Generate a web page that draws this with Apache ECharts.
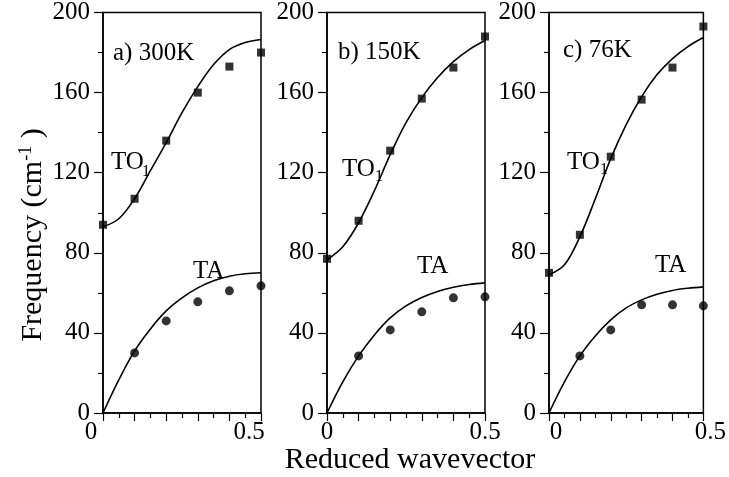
<!DOCTYPE html>
<html>
<head>
<meta charset="utf-8">
<script src="https://cdn.jsdelivr.net/npm/echarts@6/dist/echarts.min.js"></script>
<style>
html, body { margin: 0; padding: 0; background: #fff; }
#main { width: 729px; height: 477px; }
</style>
</head>
<body>
<div id="main"></div>
<script>
// reduced wavevector positions
var qTO = [0, 0.1, 0.2, 0.3, 0.4, 0.5];
var qTA = [0.1, 0.2, 0.3, 0.4, 0.5];
var qFit = [0, 0.05, 0.1, 0.15, 0.2, 0.25, 0.3, 0.35, 0.4, 0.45, 0.5];

var panelNames = ['a) 300K', 'b) 150K', 'c) 76K'];

// measured points (cm-1)
var to300 = [94, 107, 136, 160, 173, 180];
var ta300 = [30, 46, 55.5, 61, 63.5];
var to150 = [77, 96, 131, 157, 172.5, 188];
var ta150 = [28.5, 41.5, 50.5, 57.5, 58];
var to76 = [70, 89, 128, 156.5, 172.5, 193];
var ta76 = [28.5, 41.5, 54, 54, 53.5];

// fitted curves
var toFit300 = [93, 97, 107, 121, 135, 150, 163, 174, 181.5, 185, 186.5];
var taFit300 = [0, 16.5, 31, 42, 51, 57.5, 62.5, 66, 68.3, 69.5, 70];
var toFit150 = [76.5, 83, 95, 111, 129, 145, 157.5, 167.5, 175.5, 181.5, 186];
var taFit150 = [0, 15.5, 28.5, 39, 47.5, 53.5, 57.7, 60.7, 62.8, 64.2, 65];
var toFit76 = [69, 74, 88, 107, 127, 144, 158, 169, 177, 183, 187.5];
var taFit76 = [0, 15.5, 28.5, 38.5, 46.5, 52.5, 56.5, 59.3, 61.2, 62.3, 63];

var font = 'Liberation Serif, Times New Roman, serif';

function pairs(xs, ys) {
    var out = [];
    for (var i = 0; i < ys.length; i++) {
        out.push([xs[i], ys[i]]);
    }
    return out;
}

var myChart = echarts.init(document.getElementById('main'));

var lefts = [103, 327, 549];
var labelPad = [[0, 24, 0, 0], [0, 0, 0, 0], [0, 0, 0, 14]];
var toData = [to300, to150, to76];
var taData = [ta300, ta150, ta76];
var toFits = [toFit300, toFit150, toFit76];
var taFits = [taFit300, taFit150, taFit76];

var grids = [], xAxes = [], yAxes = [], series = [];
for (var p = 0; p < 3; p++) {
    grids.push({
        left: lefts[p], top: 11, width: 158, height: 402,
        show: true, borderColor: '#000', borderWidth: 1.5
    });
    xAxes.push({
        type: 'value', gridIndex: p, min: 0, max: 0.5, interval: 0.1,
        axisLine: { lineStyle: { color: '#000', width: 1.5 } },
        axisTick: { length: 8, lineStyle: { color: '#000', width: 1.2 } },
        minorTick: { show: true, splitNumber: 2, length: 5, lineStyle: { color: '#000', width: 1.2 } },
        splitLine: { show: false },
        axisLabel: {
            color: '#000', fontFamily: font, fontSize: 25, margin: 7,
            padding: labelPad[p],
            showMinLabel: true, showMaxLabel: true,
            formatter: function (v) {
                if (Math.abs(v) < 1e-9) return '0';
                if (Math.abs(v - 0.5) < 1e-9) return '0.5';
                return '';
            }
        }
    });
    yAxes.push({
        type: 'value', gridIndex: p, min: 0, max: 200, interval: 40,
        axisLine: { show: true, lineStyle: { color: '#000', width: 1.5 } },
        axisTick: { show: true, length: 9, lineStyle: { color: '#000', width: 1.2 } },
        minorTick: { show: true, splitNumber: 2, length: 5, lineStyle: { color: '#000', width: 1.2 } },
        splitLine: { show: false },
        axisLabel: { color: '#000', fontFamily: font, fontSize: 25, margin: 13 }
    });
    series.push({
        type: 'line', xAxisIndex: p, yAxisIndex: p, data: pairs(qFit, toFits[p]),
        smooth: 0.35, showSymbol: false,
        lineStyle: { color: '#000', width: 1.6 }, z: 2
    });
    series.push({
        type: 'line', xAxisIndex: p, yAxisIndex: p, data: pairs(qFit, taFits[p]),
        smooth: 0.35, showSymbol: false,
        lineStyle: { color: '#000', width: 1.6 }, z: 2
    });
    series.push({
        type: 'scatter', xAxisIndex: p, yAxisIndex: p, data: pairs(qTO, toData[p]),
        symbol: 'rect', symbolSize: 8, itemStyle: { color: '#000' }, z: 3
    });
    series.push({
        type: 'scatter', xAxisIndex: p, yAxisIndex: p, data: pairs(qTA, taData[p]),
        symbol: 'circle', symbolSize: 9, itemStyle: { color: '#000' }, z: 3
    });
}

function txt(s, x, y, size, extra) {
    var o = {
        type: 'text', x: x, y: y, z: 10,
        style: { text: s, fill: '#000', font: size + 'px ' + font, align: 'left', verticalAlign: 'middle' }
    };
    if (extra) {
        for (var k in extra) o.style[k] = extra[k];
    }
    return o;
}

var graphics = [
    txt(panelNames[0], 113, 53, 25),
    txt(panelNames[1], 338, 52, 25),
    txt(panelNames[2], 563, 50, 25),
    txt('TO', 111, 162, 25), txt('1', 142, 172, 16),
    txt('TO', 342, 169, 25), txt('1', 375, 177, 16),
    txt('TO', 567, 162, 25), txt('1', 600, 170, 16),
    txt('TA', 193, 271, 25),
    txt('TA', 417, 266, 25),
    txt('TA', 655, 265, 25),
    txt('Reduced wavevector', 410, 460, 30, { align: 'center' }),
    {
        type: 'text', x: 33, y: 235, rotation: Math.PI / 2, z: 10,
        style: {
            text: '{t|Frequency (cm}{s|-1}{t| )}',
            fill: '#000', align: 'center', verticalAlign: 'middle',
            rich: {
                t: { fontFamily: font, fontSize: 30, color: '#000' },
                s: { fontFamily: font, fontSize: 18, color: '#000', padding: [0, 0, 14, 0] }
            }
        }
    }
];

var option = {
    animation: false,
    backgroundColor: '#fff',
    grid: grids,
    xAxis: xAxes,
    yAxis: yAxes,
    series: series,
    graphic: graphics
};
myChart.setOption(option);
</script>
</body>
</html>
